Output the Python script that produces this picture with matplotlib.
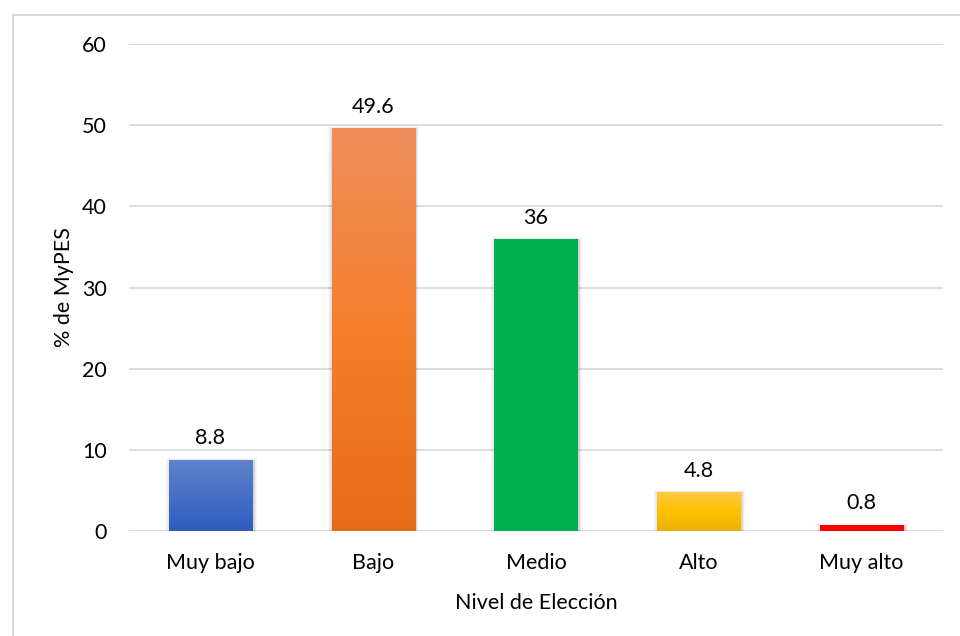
import numpy as np
import matplotlib
matplotlib.use("Agg")
import matplotlib.pyplot as plt
from matplotlib.colors import LinearSegmentedColormap
from matplotlib import patheffects as pe
from matplotlib.patches import Rectangle

plt.rcParams['font.family'] = ['Lato', 'DejaVu Sans']

categories = ["Muy bajo", "Bajo", "Medio", "Alto", "Muy alto"]
values = [8.8, 49.6, 36, 4.8, 0.8]
value_labels = ["8.8", "49.6", "36", "4.8", "0.8"]
yticks = [0, 10, 20, 30, 40, 50, 60]

# gradient stops (top, middle, bottom) for each bar
bar_gradients = [
    ["#5F83CC", "#4670C6", "#2F5DBC"],
    ["#F08E5C", "#F57F2C", "#E56C1A"],
    ["#00B050", "#00B050", "#00B050"],
    ["#FFC845", "#FFC000", "#EAB000"],
    ["#FF0000", "#FF0000", "#FF0000"],
]

FS = 15.5

fig = plt.figure(figsize=(9.6, 6.36), dpi=100)
fig.patch.set_facecolor("white")

# outer chart frame
frame = Rectangle((12.5 / 960, -0.1), 1.2, 1 - 14.5 / 636 + 0.1,
                  transform=fig.transFigure, fill=False,
                  edgecolor="#D9D9D9", linewidth=1.5, zorder=0)
fig.patches.append(frame)

ax = fig.add_axes([129 / 960, 1 - 531 / 636, (943 - 129) / 960, (531 - 44) / 636])
ax.set_facecolor("none")

x = np.arange(len(categories))
width = 0.51
ax.set_xlim(-0.5, len(categories) - 0.5)
ax.set_ylim(0, 60)

for yt in yticks:
    ax.axhline(yt, color="#D9D9D9", linewidth=1.3, zorder=1)

# soft drop shadow, offset slightly downward
shadow = [pe.Stroke(linewidth=6, foreground="#000000", alpha=0.03, offset=(0.5, -1.5)),
          pe.Stroke(linewidth=4, foreground="#000000", alpha=0.05, offset=(0.5, -1.5)),
          pe.Stroke(linewidth=2, foreground="#000000", alpha=0.08, offset=(0.5, -1)),
          pe.Normal()]

bars = ax.bar(x, values, width=width, color=[g[1] for g in bar_gradients],
              linewidth=0, zorder=2)
for b, grad in zip(bars, bar_gradients):
    b.set_path_effects(shadow)
    cmap = LinearSegmentedColormap.from_list("g", grad[::-1])
    x0, y0 = b.get_x(), b.get_y()
    w, h = b.get_width(), b.get_height()
    img = ax.imshow(np.linspace(0, 1, 256).reshape(-1, 1), cmap=cmap,
                    extent=[x0, x0 + w, y0, y0 + h], origin="lower",
                    aspect="auto", zorder=3, interpolation="bicubic")
    img.set_clip_path(b)

ax.set_xlim(-0.5, len(categories) - 0.5)
ax.set_ylim(0, 60)

for xi, v, lab in zip(x, values, value_labels):
    ax.annotate(lab, (xi, v), xytext=(0, 8), textcoords="offset points",
                ha="center", va="bottom", fontsize=FS, color="#000000")

ax.set_xticks(x)
ax.set_xticklabels(categories, fontsize=FS)
ax.set_yticks(yticks)
ax.set_yticklabels([str(t) for t in yticks], fontsize=FS)
ax.tick_params(axis="both", length=0, colors="#000000")
ax.tick_params(axis="y", pad=16)
ax.tick_params(axis="x", pad=16)
for s in ax.spines.values():
    s.set_visible(False)

ax.set_xlabel("Nivel de Elección", fontsize=FS, labelpad=14)
ax.set_ylabel("% de MyPES", fontsize=FS, labelpad=6)

fig.savefig("out.png", dpi=100, facecolor="white")
